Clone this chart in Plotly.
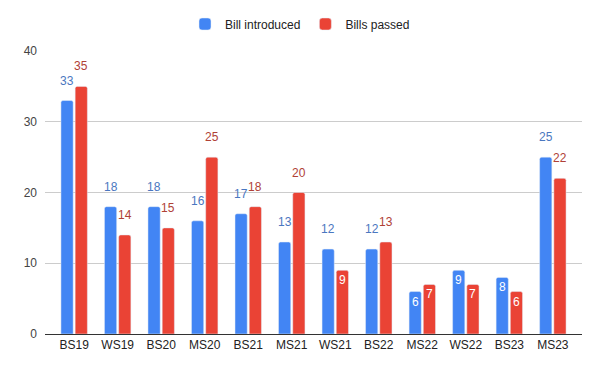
import plotly.graph_objects as go

categories = ["BS19", "WS19", "BS20", "MS20", "BS21", "MS21", "WS21", "BS22", "MS22", "WS22", "BS23", "MS23"]
introduced = [33, 18, 18, 16, 17, 13, 12, 12, 6, 9, 8, 25]
passed = [35, 14, 15, 25, 18, 20, 9, 13, 7, 7, 6, 22]
y_ticks = [0, 10, 20, 30, 40]

BLUE = "#4285F4"
RED = "#EA4335"
BLUE_LBL = "#4a77c0"
RED_LBL = "#b04136"

fig = go.Figure()
fig.add_trace(go.Bar(x=categories, y=introduced, name="Bill introduced", marker_color=BLUE))
fig.add_trace(go.Bar(x=categories, y=passed, name="Bills passed", marker_color=RED))

# data labels: placed at each bar's value, offset horizontally to the bar within the group
bargap = 0.347
bargroupgap = 0.14
slot = (1 - bargap) / 2  # width of one bar slot in category units
annotations = []
for series, offset, col in ((introduced, -slot / 2, BLUE_LBL), (passed, slot / 2, RED_LBL)):
    for i, v in enumerate(series):
        inside = v < 10
        annotations.append(dict(
            x=i + offset, y=v, xref="x", yref="y", text=str(v), showarrow=False,
            yanchor="middle", xanchor="center",
            yshift=-10 if inside else 20,
            font=dict(size=12, color="white" if inside else col,
                      family="Liberation Sans, Arial, sans-serif"),
        ))

fig.update_layout(
    width=600, height=371,
    margin=dict(l=45, r=18, t=51, b=37, autoexpand=False),
    paper_bgcolor="white", plot_bgcolor="white",
    font=dict(family="Liberation Sans, Arial, sans-serif", size=12, color="#222222"),
    barmode="group", bargap=bargap, bargroupgap=bargroupgap,
    barcornerradius=2,
    legend=dict(orientation="h", x=0.5, xanchor="center", y=1 - 24 / 371, yanchor="middle",
                yref="container", xref="container", font=dict(size=12, color="#222222")),
    annotations=annotations,
    showlegend=True,
)
fig.update_xaxes(range=[-0.67, 11.67], showgrid=False, showline=True, linecolor="#333333",
                 linewidth=1, ticks="", tickfont=dict(size=12, color="#222222"))
fig.update_yaxes(range=[0, 40], tickvals=y_ticks, showgrid=True, gridcolor="#cccccc",
                 zeroline=False, showline=False, ticks="",
                 tickfont=dict(size=12, color="#444444"), ticklabelstandoff=7)

fig.write_html("out.html", config={"displayModeBar": False},
               post_script="document.body.style.margin='0';")
